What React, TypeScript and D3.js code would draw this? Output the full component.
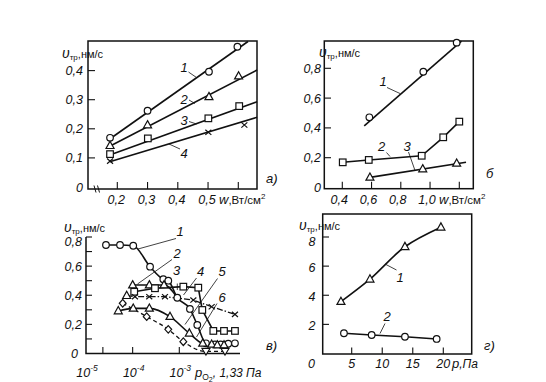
import React from 'react';
import * as d3 from 'd3';

type P = { x: number; y: number; m?: string };

// ---------- panel а : v vs w ----------
const aXTicks = [0.2, 0.3, 0.4, 0.5, 0.6];
const aXLabels = ['0,2', '0,3', '0,4', '0,5'];
const aYTicks = [0, 0.1, 0.2, 0.3, 0.4];
const aYLabels = ['0', '0,1', '0,2', '0,3', '0,4'];
const a1: P[] = [{ x: 0.176, y: 0.169 }, { x: 0.3, y: 0.262 }, { x: 0.503, y: 0.396 }, { x: 0.597, y: 0.482 }];
const a1Fit: P[] = [{ x: 0.175, y: 0.165 }, { x: 0.632, y: 0.5 }];
const a2: P[] = [{ x: 0.176, y: 0.142 }, { x: 0.3, y: 0.213 }, { x: 0.503, y: 0.31 }, { x: 0.601, y: 0.381 }];
const a2Fit: P[] = [{ x: 0.175, y: 0.14 }, { x: 0.662, y: 0.402 }];
const a3: P[] = [{ x: 0.176, y: 0.113 }, { x: 0.301, y: 0.167 }, { x: 0.501, y: 0.236 }, { x: 0.603, y: 0.278 }];
const a3Fit: P[] = [{ x: 0.175, y: 0.11 }, { x: 0.662, y: 0.293 }];
const a4: P[] = [{ x: 0.176, y: 0.089 }, { x: 0.501, y: 0.188 }, { x: 0.62, y: 0.213 }];
const a4Fit: P[] = [{ x: 0.175, y: 0.087 }, { x: 0.662, y: 0.2395 }];

// ---------- panel б ----------
const bXTicks = [0.4, 0.6, 0.8, 1.0, 1.2];
const bXLabels = ['0,4', '0,6', '0,8', '1,0'];
const bYTicks = [0, 0.2, 0.4, 0.6, 0.8];
const bYLabels = ['0', '0,2', '0,4', '0,6', '0,8'];
const b1: P[] = [{ x: 0.585, y: 0.471 }, { x: 0.954, y: 0.777 }, { x: 1.182, y: 0.972 }];
const b1Fit: P[] = [{ x: 0.55, y: 0.413 }, { x: 1.215, y: 0.983 }];
const b2: P[] = [{ x: 0.403, y: 0.169 }, { x: 0.581, y: 0.185 }, { x: 0.943, y: 0.213 }, { x: 1.09, y: 0.337 }, { x: 1.2, y: 0.442 }];
const b3: P[] = [{ x: 0.589, y: 0.068 }, { x: 0.95, y: 0.124 }, { x: 1.182, y: 0.162 }];
const b3Fit: P[] = [{ x: 0.589, y: 0.068 }, { x: 1.246, y: 0.169 }];

// ---------- panel в : v vs p_O2 (log) ----------
const vXTicks = [1e-5, 2.3e-5, 1e-4, 1e-3];
const vXLabels = [{ v: 1e-5, e: '-5' }, { v: 1e-4, e: '-4' }, { v: 1e-3, e: '-3' }];
const vYTicks = [0, 0.1, 0.2, 0.3, 0.4, 0.5, 0.6, 0.7, 0.8];
const vYLabelVals = [0, 0.2, 0.4, 0.6, 0.8];
const vYLabels = ['0', '0,2', '0,4', '0,6', '0,8'];
const v1: P[] = [
  { x: 2.68e-5, y: 0.745, m: 'o' }, { x: 5.36e-5, y: 0.745, m: 'o' }, { x: 1.03e-4, y: 0.74, m: 'o' },
  { x: 2.36e-4, y: 0.596, m: 'o' }, { x: 4.54e-4, y: 0.51, m: 'o' }, { x: 5.81e-4, y: 0.5, m: 'o' },
  { x: 9.06e-4, y: 0.383, m: 'o' }, { x: 1.69e-3, y: 0.306, m: 'o' }, { x: 2.43e-3, y: 0.196, m: 'o' },
  { x: 3.73e-3, y: 0.07, m: 'o' }, { x: 5.82e-3, y: 0.063, m: 'o' }, { x: 7.71e-3, y: 0.063, m: 'o' },
  { x: 1.12e-2, y: 0.067, m: 'o' }, { x: 1.56e-2, y: 0.07, m: 'o' },
];
const v2: P[] = [
  { x: 1.0e-4, y: 0.47, m: 't' }, { x: 2.28e-4, y: 0.47, m: 't' }, { x: 4.7e-4, y: 0.47, m: 't' },
  { x: 9.06e-4, y: 0.383, m: '' },
];
const v3: P[] = [
  { x: 1.08e-4, y: 0.424, m: 's' }, { x: 3.01e-4, y: 0.448, m: 's' }, { x: 1.22e-3, y: 0.459, m: 's' },
  { x: 2.55e-3, y: 0.452, m: 's' }, { x: 3.11e-3, y: 0.299, m: 's' }, { x: 5.36e-3, y: 0.155, m: 's' },
  { x: 9.08e-3, y: 0.155, m: 's' }, { x: 1.56e-2, y: 0.155, m: 's' },
];
const v4: P[] = [
  { x: 7.45e-5, y: 0.397, m: 't' }, { x: 1.12e-4, y: 0.39, m: 'x' }, { x: 2.27e-4, y: 0.39, m: 'x' },
  { x: 4.93e-4, y: 0.39, m: 'x' }, { x: 2.0e-3, y: 0.367, m: 'x' }, { x: 4.94e-3, y: 0.321, m: 'x' },
  { x: 1.56e-2, y: 0.269, m: 'x' },
];
const v5: P[] = [
  { x: 4.92e-5, y: 0.292, m: 't' }, { x: 1.03e-4, y: 0.31, m: 't' }, { x: 2.28e-4, y: 0.31, m: 't' },
  { x: 6.32e-4, y: 0.253, m: 't' }, { x: 1.64e-3, y: 0.139, m: 't' }, { x: 3.18e-3, y: 0.07, m: 't' },
  { x: 4.94e-3, y: 0.063, m: 't' }, { x: 6.53e-3, y: 0.058, m: 't' }, { x: 9.08e-3, y: 0.058, m: 't' },
];
const v6: P[] = [
  { x: 6.12e-5, y: 0.345, m: 'd' }, { x: 2.0e-4, y: 0.253, m: 'd' }, { x: 5.8e-4, y: 0.166, m: 'd' },
  { x: 1.22e-3, y: 0.081, m: 'd' }, { x: 3.73e-3, y: 0.014, m: 'v' }, { x: 9.55e-3, y: 0.014, m: 'v' },
];

// ---------- panel г : v vs p ----------
const gXTicks = [5, 10, 15, 20];
const gXLabels = ['5', '10', '15', '20'];
const gYTicks = [2, 4, 6, 8];
const gYLabels = ['2', '4', '6', '8'];
const g1: P[] = [{ x: 3.24, y: 3.56 }, { x: 7.99, y: 5.1 }, { x: 13.72, y: 7.33 }, { x: 19.61, y: 8.67 }];
const g2: P[] = [{ x: 3.73, y: 1.39 }, { x: 8.27, y: 1.27 }, { x: 13.72, y: 1.15 }, { x: 18.91, y: 1.0 }];

const F = "'Liberation Sans', Arial, sans-serif";
const K = '#111';

function Mark({ m, x, y }: { m: string; x: number; y: number }) {
  const st = { fill: '#fff', stroke: K, strokeWidth: 1.2 };
  switch (m) {
    case 'o':
      return <circle cx={x} cy={y} r={3.3} {...st} />;
    case 't':
      return <path d={`M${x},${y - 4.4}L${x + 4},${y + 2.8}L${x - 4},${y + 2.8}Z`} {...st} />;
    case 'v':
      return <path d={`M${x},${y + 3.6}L${x + 4},${y - 3}L${x - 4},${y - 3}Z`} {...st} />;
    case 's':
      return <rect x={x - 3.3} y={y - 3.3} width={6.6} height={6.6} {...st} />;
    case 'd':
      return <path d={`M${x},${y - 3.8}L${x + 3.4},${y}L${x},${y + 3.8}L${x - 3.4},${y}Z`} {...st} />;
    case 'x':
      return <path d={`M${x - 3},${y - 2.6}L${x + 3},${y + 2.6}M${x - 3},${y + 2.6}L${x + 3},${y - 2.6}`} stroke={K} strokeWidth={1.2} fill="none" />;
    default:
      return null;
  }
}

type Sc = (v: number) => number;

function Curve({ pts, xs, ys, curve, dash, w = 1.6 }: { pts: P[]; xs: Sc; ys: Sc; curve?: any; dash?: string; w?: number }) {
  const line = d3.line<P>().x((p) => xs(p.x)).y((p) => ys(p.y)).curve(curve || d3.curveLinear);
  return <path d={line(pts) || ''} fill="none" stroke={K} strokeWidth={w} strokeDasharray={dash} />;
}

function Marks({ pts, xs, ys, m }: { pts: P[]; xs: Sc; ys: Sc; m?: string }) {
  return (
    <g>
      {pts.map((p, i) => (
        <Mark key={i} m={m || p.m || ''} x={xs(p.x)} y={ys(p.y)} />
      ))}
    </g>
  );
}

function YTitle({ x, y }: { x: number; y: number }) {
  return (
    <text x={x} y={y} fontFamily={F} fill={K}>
      <tspan fontSize={14} fontStyle="italic">υ</tspan>
      <tspan fontSize={8} dy={2}>тр</tspan>
      <tspan fontSize={11} dy={-2}>,нм/с</tspan>
    </text>
  );
}

function Lbl({ x, y, t, size = 13, anchor = 'middle' }: { x: number; y: number; t: string; size?: number; anchor?: string }) {
  return (
    <text x={x} y={y} fontFamily={F} fontStyle="italic" fontSize={size} textAnchor={anchor as any} fill={K}>
      {t}
    </text>
  );
}

function Leader({ x1, y1, x2, y2 }: { x1: number; y1: number; x2: number; y2: number }) {
  return <line x1={x1} y1={y1} x2={x2} y2={y2} stroke={K} strokeWidth={0.8} />;
}

export default function App() {
  // scales
  const xA = d3.scaleLinear().domain([0.2, 0.6]).range([117.3, 238.3]);
  const yA = d3.scaleLinear().domain([0, 0.5]).range([187, 41.5]);
  const xB = d3.scaleLinear().domain([0.4, 1.2]).range([342.3, 459.3]);
  const yB = d3.scaleLinear().domain([0, 0.8]).range([187.5, 68.3]);
  const xV = d3.scaleLog().domain([1e-5, 1e-3]).range([86, 179.3]);
  const yV = d3.scaleLinear().domain([0, 0.8]).range([353.5, 237]);
  const xG = d3.scaleLinear().domain([5, 20]).range([351.7, 443.3]);
  const yG = d3.scaleLinear().domain([0, 8]).range([353.5, 237]);

  const frame = { fill: 'none', stroke: K, strokeWidth: 1.5 };
  const tk = { stroke: K, strokeWidth: 1.1 };

  return (
    <svg width={546} height={382} style={{ position: 'absolute', left: 0, top: 0, background: '#fff' }}>
      <rect width={546} height={382} fill="#fff" />

      {/* ===== panel а ===== */}
      <g>
        <rect x={88} y={41} width={169} height={148} {...frame} />
        {aXTicks.map((v) => (
          <line key={v} x1={xA(v)} x2={xA(v)} y1={189} y2={182} {...tk} />
        ))}
        {aYTicks.slice(1).map((v) => (
          <line key={v} x1={88} x2={95} y1={yA(v)} y2={yA(v)} {...tk} />
        ))}
        <path d="M94,185.5L96,192.5M97.5,185.5L99.5,192.5" stroke={K} strokeWidth={1} />
        {aXLabels.map((t, i) => (
          <Lbl key={t} x={xA(aXTicks[i]) - 1} y={204} t={t} size={12.5} />
        ))}
        <text x={219} y={204} fontFamily={F} fill={K}>
          <tspan fontSize={13} fontStyle="italic">w</tspan>
          <tspan fontSize={11.5}>,Вт/см</tspan>
          <tspan fontSize={8} dy={-5}>2</tspan>
        </text>
        {aYLabels.map((t, i) => (
          <Lbl key={t} x={83} y={yA(aYTicks[i]) + 4.5} t={t} size={12.5} anchor="end" />
        ))}
        <YTitle x={62} y={58} />
        <Curve pts={a1Fit} xs={xA} ys={yA} />
        <Curve pts={a2Fit} xs={xA} ys={yA} />
        <Curve pts={a3Fit} xs={xA} ys={yA} />
        <Curve pts={a4Fit} xs={xA} ys={yA} />
        <Marks pts={a1} xs={xA} ys={yA} m="o" />
        <Marks pts={a2} xs={xA} ys={yA} m="t" />
        <Marks pts={a3} xs={xA} ys={yA} m="s" />
        <Marks pts={a4} xs={xA} ys={yA} m="x" />
        <Lbl x={184} y={72} t="1" />
        <Leader x1={188.5} y1={72} x2={196.5} y2={77.5} />
        <Lbl x={184} y={104} t="2" />
        <Leader x1={189} y1={100} x2={195} y2={103.5} />
        <Lbl x={184} y={125} t="3" />
        <Leader x1={189} y1={121.5} x2={196.5} y2={124} />
        <Lbl x={184} y={158} t="4" />
        <Leader x1={180} y1={149} x2={169} y2={144} />
        <Lbl x={266} y={183} t="а)" anchor="start" />
      </g>

      {/* ===== panel б ===== */}
      <g>
        <rect x={324.3} y={41} width={149} height={147.7} {...frame} />
        {bXTicks.map((v) => (
          <line key={v} x1={xB(v)} x2={xB(v)} y1={188.7} y2={181.7} {...tk} />
        ))}
        {bYTicks.slice(1).map((v) => (
          <line key={v} x1={324.3} x2={331} y1={yB(v)} y2={yB(v)} {...tk} />
        ))}
        {bXLabels.map((t, i) => (
          <Lbl key={t} x={xB(bXTicks[i]) - 3} y={204} t={t} size={12.5} />
        ))}
        <text x={439} y={204} fontFamily={F} fill={K}>
          <tspan fontSize={13} fontStyle="italic">w</tspan>
          <tspan fontSize={11.5}>,Вт/см</tspan>
          <tspan fontSize={8} dy={-5}>2</tspan>
        </text>
        {bYLabels.map((t, i) => (
          <Lbl key={t} x={321} y={yB(bYTicks[i]) + 4.5} t={t} size={12.5} anchor="end" />
        ))}
        <YTitle x={319} y={57} />
        <Curve pts={b1Fit} xs={xB} ys={yB} />
        <Curve pts={b2} xs={xB} ys={yB} />
        <Curve pts={b3Fit} xs={xB} ys={yB} />
        <Marks pts={b1} xs={xB} ys={yB} m="o" />
        <Marks pts={b2} xs={xB} ys={yB} m="s" />
        <Marks pts={b3} xs={xB} ys={yB} m="t" />
        <Lbl x={383} y={86} t="1" />
        <Leader x1={387} y1={87.5} x2={400} y2={93.5} />
        <Lbl x={381.5} y={150.5} t="2" />
        <Leader x1={386.5} y1={152.5} x2={390} y2={156.5} />
        <Lbl x={407} y={150.5} t="3" />
        <Leader x1={408.5} y1={152} x2={415} y2={170.5} />
        <Lbl x={486} y={178} t="б" anchor="start" />
      </g>

      {/* ===== panel в ===== */}
      <g>
        <path d="M86,237V353.5H240" {...frame} />
        {vXTicks.slice(1).map((v) => (
          <line key={v} x1={xV(v)} x2={xV(v)} y1={353.5} y2={347} {...tk} />
        ))}
        {vYTicks.slice(1).map((v) => (
          <line key={v} x1={86} x2={92} y1={yV(v)} y2={yV(v)} {...tk} />
        ))}
        {vXLabels.map((l) => (
          <text key={l.e} x={xV(l.v) + 1} y={377} textAnchor="middle" fontFamily={F} fontStyle="italic" fill={K}>
            <tspan fontSize={12.5}>10</tspan>
            <tspan fontSize={8.5} dy={-6}>{l.e}</tspan>
          </text>
        ))}
        <text x={195} y={377} fontFamily={F} fill={K}>
          <tspan fontSize={13} fontStyle="italic">p</tspan>
          <tspan fontSize={8.5} dy={3}>O</tspan>
          <tspan fontSize={7} dy={2}>2</tspan>
          <tspan fontSize={12} dy={-5} fontStyle="italic">, 1,33 Па</tspan>
        </text>
        {vYLabels.map((t, i) => (
          <Lbl key={t} x={i === 0 ? 78 : 82} y={yV(vYLabelVals[i]) + (i === 4 ? 9 : 4.5)} t={t} size={12.5} anchor="end" />
        ))}
        <YTitle x={64} y={232} />
        <Curve pts={v1} xs={xV} ys={yV} curve={d3.curveMonotoneX} />
        <Curve pts={v2} xs={xV} ys={yV} curve={d3.curveMonotoneX} />
        <Curve pts={v3} xs={xV} ys={yV} />
        <Curve pts={v4} xs={xV} ys={yV} dash="6 2 1.5 2" w={1.3} />
        <Curve pts={v5} xs={xV} ys={yV} curve={d3.curveMonotoneX} />
        <Curve pts={v6} xs={xV} ys={yV} dash="4 3" w={1.3} curve={d3.curveMonotoneX} />
        <Marks pts={v1} xs={xV} ys={yV} />
        <Marks pts={v2} xs={xV} ys={yV} />
        <Marks pts={v3} xs={xV} ys={yV} />
        <Marks pts={v4} xs={xV} ys={yV} />
        <Marks pts={v5} xs={xV} ys={yV} />
        <Marks pts={v6} xs={xV} ys={yV} />
        <Lbl x={180} y={236} t="1" />
        <Leader x1={176} y1={238.5} x2={138} y2={249} />
        <Lbl x={177} y={258} t="2" />
        <Leader x1={172} y1={259.5} x2={137.5} y2={284} />
        <Lbl x={176.5} y={275} t="3" />
        <Leader x1={177.3} y1={283.5} x2={177.3} y2={290} />
        <Lbl x={200.5} y={276} t="4" />
        <Leader x1={196.5} y1={278} x2={183.5} y2={295} />
        <Lbl x={222} y={276} t="5" />
        <Leader x1={217.5} y1={278.5} x2={185} y2={324.5} />
        <Lbl x={222} y={301.5} t="6" />
        <Leader x1={217} y1={303.5} x2={196.5} y2={337} />
        <Lbl x={266} y={350} t="в)" anchor="start" />
      </g>

      {/* ===== panel г ===== */}
      <g>
        <rect x={322.7} y={214} width={149} height={140} {...frame} />
        {gXTicks.map((v) => (
          <line key={v} x1={xG(v)} x2={xG(v)} y1={354} y2={347.5} {...tk} />
        ))}
        {gYTicks.map((v) => (
          <line key={v} x1={322.7} x2={329} y1={yG(v)} y2={yG(v)} {...tk} />
        ))}
        <Lbl x={311.5} y={368} t="0" size={12.5} />
        {gXLabels.map((t, i) => (
          <Lbl key={t} x={xG(gXTicks[i])} y={368} t={t} size={12.5} />
        ))}
        <text x={452} y={368} fontFamily={F} fill={K}>
          <tspan fontSize={13} fontStyle="italic">p</tspan>
          <tspan fontSize={12} fontStyle="italic">,Па</tspan>
        </text>
        {gYLabels.map((t, i) => (
          <Lbl key={t} x={315.5} y={yG(gYTicks[i]) + (i === 3 ? 9 : 5.5)} t={t} size={12.5} anchor="end" />
        ))}
        <YTitle x={299} y={230} />
        <Curve pts={g1} xs={xG} ys={yG} curve={d3.curveCatmullRom} />
        <Curve pts={g2} xs={xG} ys={yG} />
        <Marks pts={g1} xs={xG} ys={yG} m="t" />
        <Marks pts={g2} xs={xG} ys={yG} m="o" />
        <Lbl x={400} y={282} t="1" />
        <Leader x1={396.5} y1={270} x2={385} y2={264} />
        <Lbl x={387} y={321} t="2" />
        <Leader x1={385} y1={323.5} x2={380} y2={333.5} />
        <Lbl x={484} y={350} t="г)" anchor="start" />
      </g>
    </svg>
  );
}
